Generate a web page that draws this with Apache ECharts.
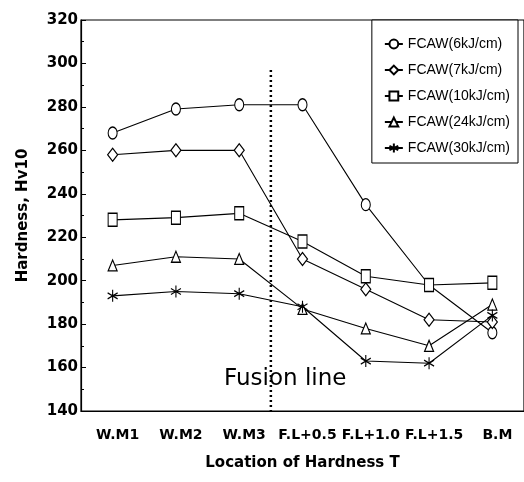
<!DOCTYPE html>
<html lang="en">
<head>
    <meta charset="utf-8" />
    <title>Hardness distribution</title>
    <script src="https://cdn.jsdelivr.net/npm/echarts@6/dist/echarts.min.js"></script>
    <style>
        body {
            margin: 0;
            padding: 0;
            background: #fff;
        }

        #main {
            width: 524px;
            height: 482px;
        }
    </style>
</head>
<body>
<div id="main"></div>
<script type="text/javascript">
    // Data
    const locations = ['W.M1', 'W.M2', 'W.M3', 'F.L+0.5', 'F.L+1.0', 'F.L+1.5', 'B.M'];
    const seriesNames = ['FCAW(6kJ/cm)', 'FCAW(7kJ/cm)', 'FCAW(10kJ/cm)', 'FCAW(24kJ/cm)', 'FCAW(30kJ/cm)'];
    const fcaw6 = [268, 279, 281, 281, 235, 198, 176];
    const fcaw7 = [258, 260, 260, 210, 196, 182, 181];
    const fcaw10 = [228, 229, 231, 218, 202, 198, 199];
    const fcaw24 = [207, 211, 210, 187, 178, 170, 189];
    const fcaw30 = [193, 195, 194, 188, 163, 162, 184];
    // fusion line sits between W.M3 and F.L+0.5
    const fusionPos = 2.5;
    const fusionRange = [297, 140];

    const star = 'path://M5,0L5,10M0.7,2.5L9.3,7.5M0.7,7.5L9.3,2.5';
    const markers = [
        {symbol: 'circle', size: [9, 12]},
        {symbol: 'diamond', size: [10, 13]},
        {symbol: 'rect', size: [9, 13]},
        {symbol: 'triangle', size: [9, 11]},
        {symbol: star, size: [10, 12]}
    ];
    const allValues = [fcaw6, fcaw7, fcaw10, fcaw24, fcaw30];

    const boldFont = 'DejaVu Sans';
    var myChart = echarts.init(document.getElementById('main'));

    const lineSeries = seriesNames.map((name, i) => ({
        name: name,
        type: 'line',
        data: allValues[i],
        symbol: markers[i].symbol,
        symbolSize: markers[i].size,
        showAllSymbol: true,
        lineStyle: {color: '#000', width: 1.1},
        itemStyle: {color: '#fff', borderColor: '#000', borderWidth: 1.2},
        emphasis: {disabled: true},
        z: 3
    }));

    var option = {
        backgroundColor: '#fff',
        animation: false,
        grid: {
            left: 81,
            top: 20,
            width: 446,
            height: 391,
            show: true,
            borderColor: '#000',
            borderWidth: 1.2
        },
        legend: {
            data: seriesNames,
            orient: 'vertical',
            right: 6,
            top: 20,
            borderColor: '#000',
            borderWidth: 1,
            padding: [17, 8, 8, 12],
            itemGap: 12,
            itemWidth: 18,
            itemHeight: 11,
            backgroundColor: '#fff',
            textStyle: {
                color: '#000',
                fontSize: 14,
                fontFamily: 'Liberation Sans'
            }
        },
        xAxis: [
            {
                type: 'category',
                data: locations,
                name: 'Location of Hardness T',
                nameLocation: 'middle',
                nameGap: 45,
                nameTextStyle: {
                    color: '#000',
                    fontSize: 15,
                    fontWeight: 'bold',
                    fontFamily: boldFont
                },
                axisLine: {onZero: false, lineStyle: {color: '#000', width: 1.2}},
                axisTick: {inside: true, length: 5, lineStyle: {color: '#000'}},
                axisLabel: {
                    color: '#000',
                    fontSize: 14,
                    fontWeight: 'bold',
                    fontFamily: boldFont,
                    margin: 17,
                    interval: 0,
                    padding: [0, 0, 0, 10]
                }
            },
            {
                type: 'value',
                min: -0.5,
                max: 6.5,
                show: false
            }
        ],
        yAxis: {
            type: 'value',
            min: 140,
            max: 320,
            interval: 20,
            name: 'Hardness, Hv10',
            nameLocation: 'middle',
            nameGap: 50,
            nameTextStyle: {
                color: '#000',
                fontSize: 15,
                fontWeight: 'bold',
                fontFamily: boldFont
            },
            axisLine: {show: true, onZero: false, lineStyle: {color: '#000', width: 1.2}},
            axisTick: {show: true, inside: true, length: 5, lineStyle: {color: '#000'}},
            minorTick: {show: true, splitNumber: 2, length: 3, lineStyle: {color: '#000'}},
            splitLine: {show: false},
            axisLabel: {
                color: '#000',
                fontSize: 15,
                fontWeight: 'bold',
                fontFamily: boldFont,
                margin: 3
            }
        },
        graphic: [
            {
                type: 'text',
                left: 224,
                top: 368,
                style: {
                    text: 'Fusion line',
                    fill: '#000',
                    font: '23px "DejaVu Sans"'
                }
            }
        ],
        series: lineSeries.concat([
            {
                name: 'fusion',
                type: 'line',
                xAxisIndex: 1,
                data: fusionRange.map(v => [fusionPos, v]),
                symbol: 'none',
                silent: true,
                lineStyle: {color: '#000', width: 2.5, type: [2, 3]},
                z: 1
            }
        ])
    };

    myChart.setOption(option);
</script>
</body>
</html>
